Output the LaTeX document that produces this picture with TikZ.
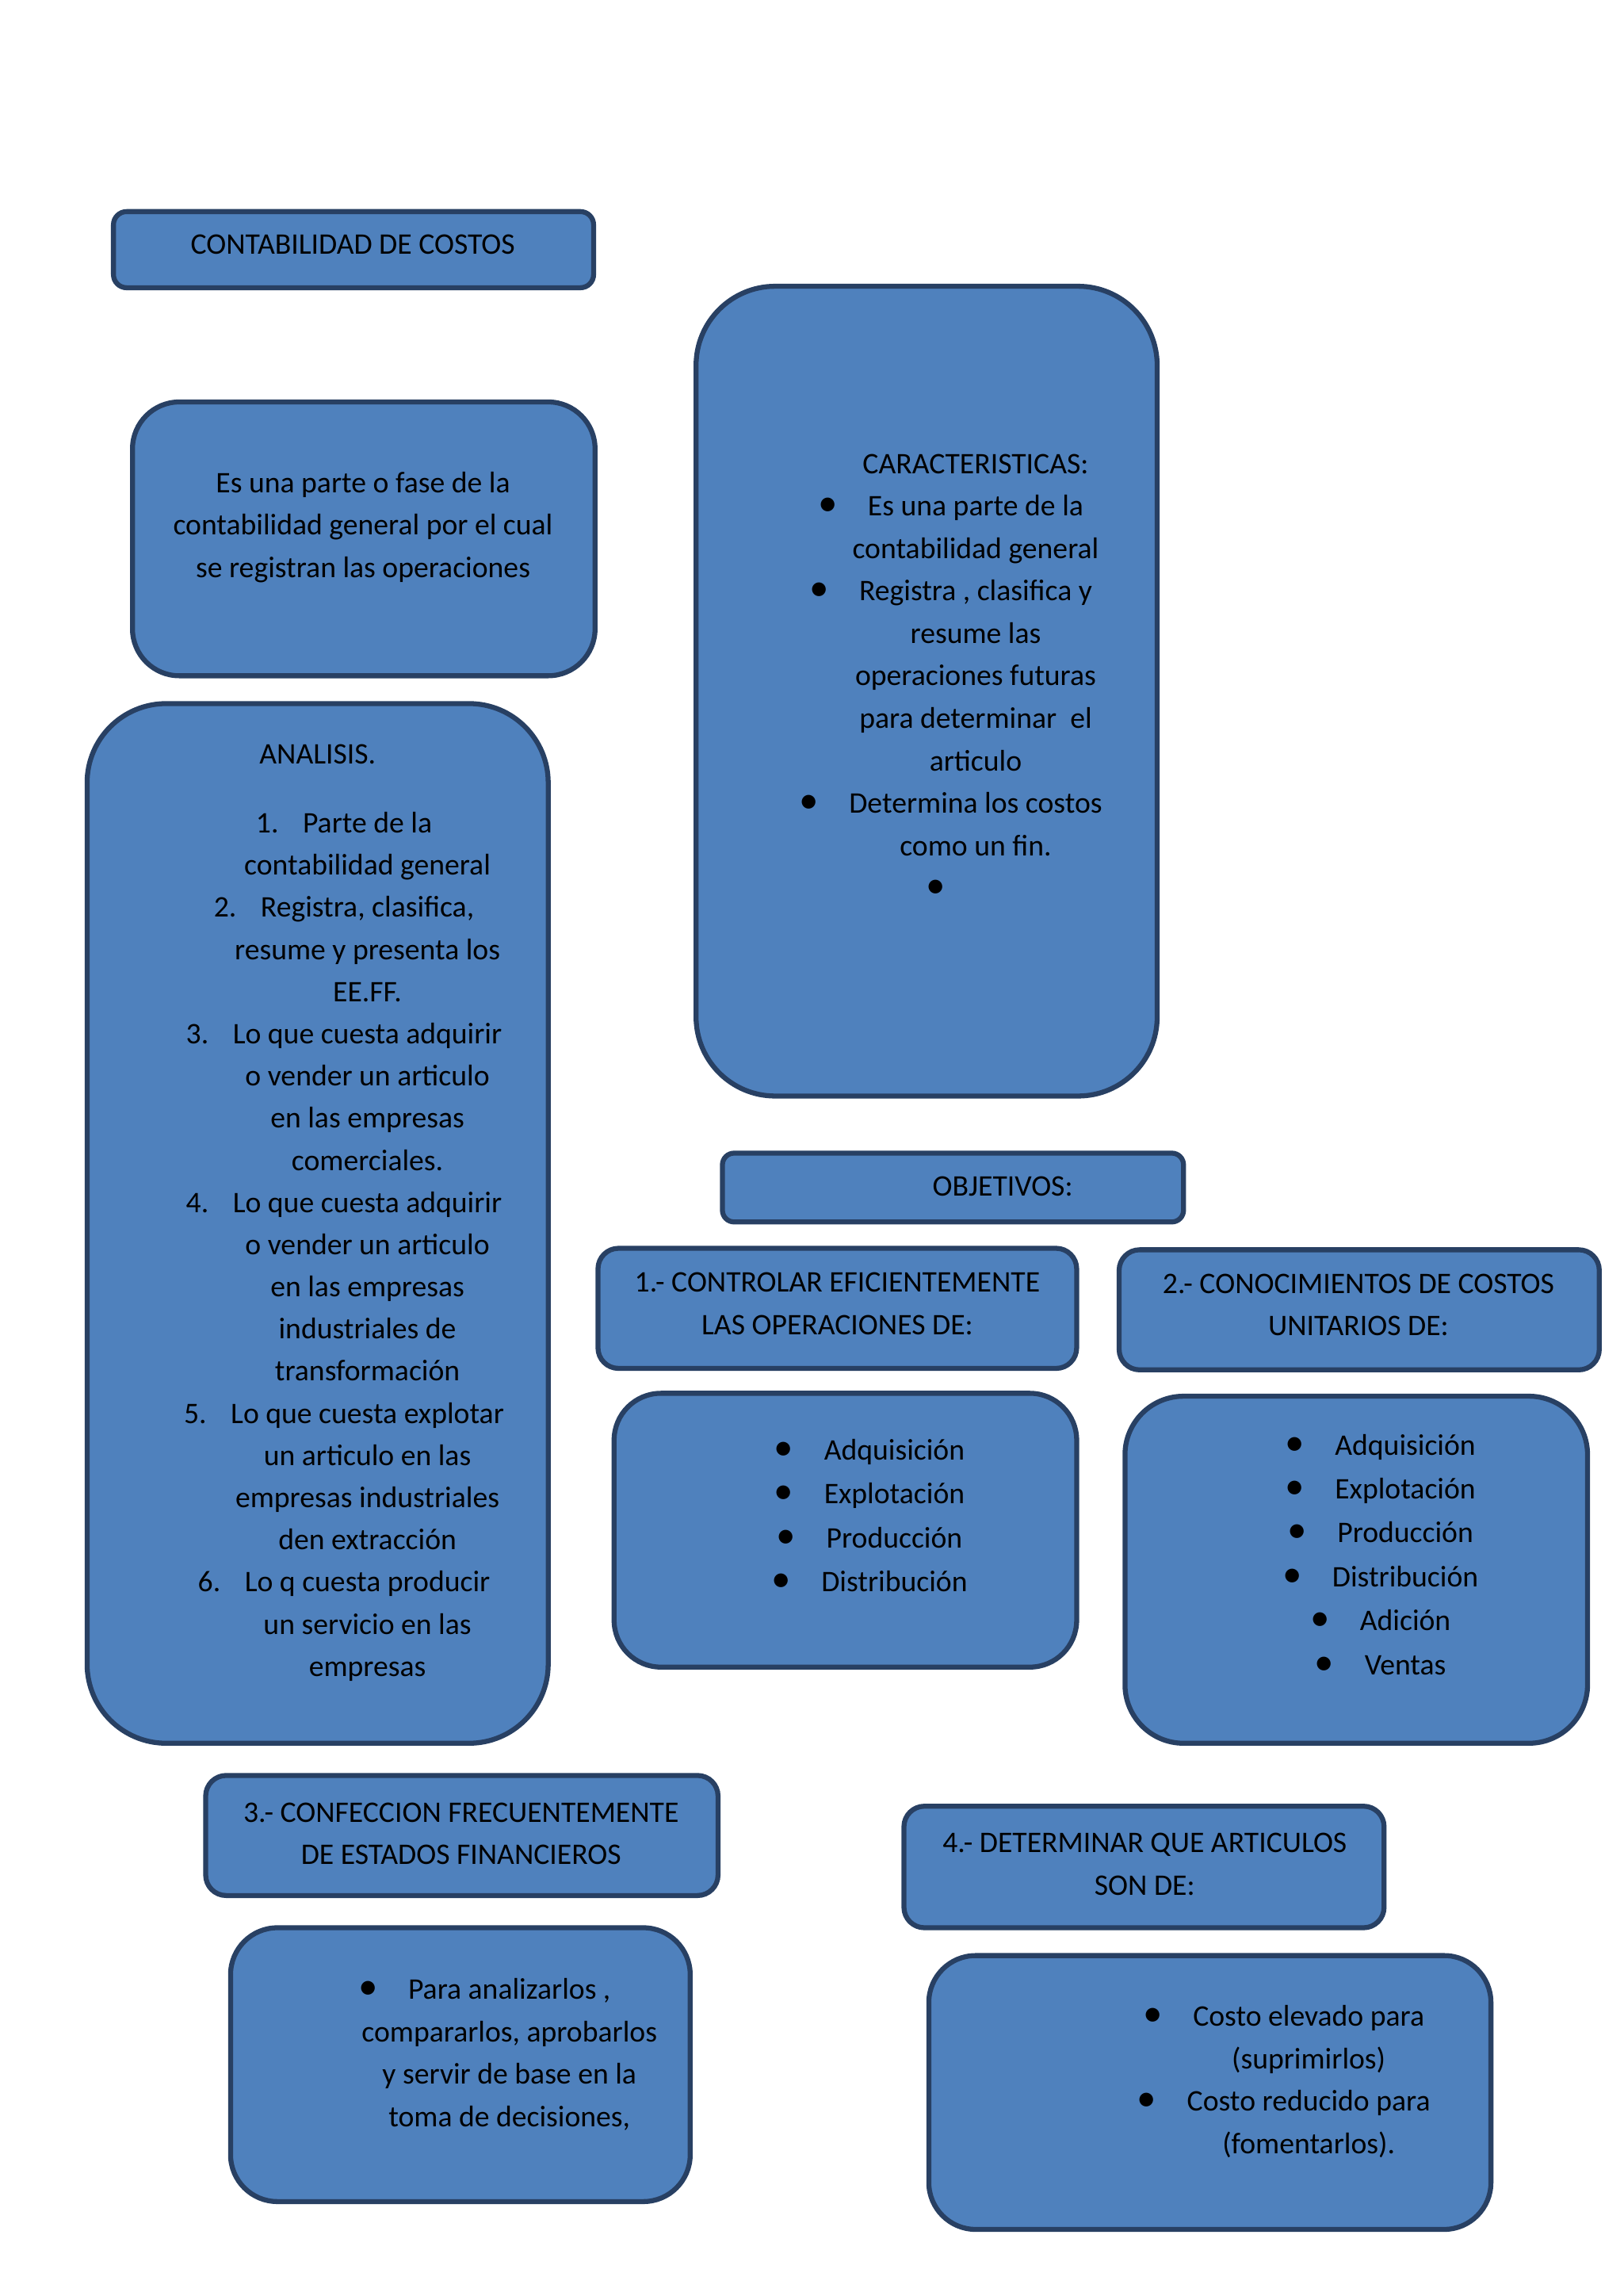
\documentclass[tikz,border=0pt]{standalone}
\usepackage{fontspec}
\setmainfont{Carlito}
\usepackage{graphicx}
\definecolor{boxblue}{RGB}{79,129,189}
\definecolor{boxedge}{RGB}{40,64,99}
\newcommand{\bl}{\llap{\makebox[17pt][l]{\scalebox{1.3}{\textbullet}}}}
\newcommand{\nr}[1]{\llap{\makebox[16pt][l]{#1.}}}
\tikzset{
  panel/.style={rectangle, draw=boxedge, fill=boxblue, line width=1.7pt, inner sep=0pt},
  txt/.style={font=\fontsize{10.2}{14.5}\selectfont, align=center, inner sep=0pt, text=black,
    execute at begin node=\strut, execute at end node=\strut},
}

\begin{document}
\begin{tikzpicture}[x=0.5pt,y=-0.5pt]
  \useasboundingbox (0,0) rectangle (1109,1568);
  % panels
  \node[panel, minimum width=164pt, minimum height=26pt, rounded corners=4.5pt] (title) at (241.5,170.5) {};
  \node[panel, minimum width=158pt, minimum height=93.5pt, rounded corners=16pt] (defin) at (248.5,368) {};
  \node[panel, minimum width=157.5pt, minimum height=355pt, rounded corners=27pt] (analisis) at (217,835.5) {};
  \node[panel, minimum width=157.5pt, minimum height=276.5pt, rounded corners=27pt] (caract) at (633,472) {};
  \node[panel, minimum width=157.5pt, minimum height=23.5pt, rounded corners=4pt] (objetivos) at (651,811) {};
  \node[panel, minimum width=163.5pt, minimum height=41pt, rounded corners=7pt] (obj1) at (572,893.5) {};
  \node[panel, minimum width=164pt, minimum height=41pt, rounded corners=7pt] (obj2) at (928.5,894.5) {};
  \node[panel, minimum width=158pt, minimum height=93.5pt, rounded corners=16pt] (obj1list) at (577.5,1045) {};
  \node[panel, minimum width=158pt, minimum height=118.5pt, rounded corners=20pt] (obj2list) at (926.5,1072) {};
  \node[panel, minimum width=175pt, minimum height=41pt, rounded corners=7pt] (obj3) at (315.5,1253.5) {};
  \node[panel, minimum width=164pt, minimum height=41.5pt, rounded corners=7pt] (obj4) at (781.5,1275) {};
  \node[panel, minimum width=157pt, minimum height=93.5pt, rounded corners=16pt] (obj3list) at (314.5,1410) {};
  \node[panel, minimum width=192pt, minimum height=93.5pt, rounded corners=16pt] (obj4list) at (826.5,1429) {};
  % texts
  \node[txt] (titleTxt) at (241,168) {CONTABILIDAD DE COSTOS};
  \node[txt] (definTxt) at (248,362.5) {Es una parte o fase de la\\contabilidad general por el cual\\se registran las operaciones};
  \node[txt] (analisisHead) at (217,516) {ANALISIS.};
  \node[txt, font=\fontsize{10.2}{14.4}\selectfont] (analisisTxt) at (251,854) {\nr{1}Parte de la\\contabilidad general\\\nr{2}Registra, clasifica,\\resume y presenta los\\EE.FF.\\
    \nr{3}Lo que cuesta adquirir\\o vender un articulo\\en las empresas\\comerciales.\\
    \nr{4}Lo que cuesta adquirir\\o vender un articulo\\en las empresas\\industriales de\\transformación\\
    \nr{5}Lo que cuesta explotar\\un articulo en las\\empresas industriales\\den extracción\\
    \nr{6}Lo q cuesta producir\\un servicio en las\\empresas};
  \node[txt] (caractTxt) at (666.5,466) {CARACTERISTICAS:\\\bl Es una parte de la\\contabilidad general\\
    \bl Registra , clasifica y\\resume las\\operaciones futuras\\para determinar \ el\\articulo\\
    \bl Determina los costos\\como un fin.\\\bl};
  \node[txt] (objetivosTxt) at (685,811) {OBJETIVOS:};
  \node[txt] (obj1Txt) at (572,894.5) {1.- CONTROLAR EFICIENTEMENTE\\LAS OPERACIONES DE:};
  \node[txt] (obj2Txt) at (928,895.5) {2.- CONOCIMIENTOS DE COSTOS\\UNITARIOS DE:};
  \node[txt, font=\fontsize{10.2}{15}\selectfont] (obj1listTxt) at (611,1039.5) {\bl Adquisición\\\bl Explotación\\\bl Producción\\\bl Distribución};
  \node[txt, font=\fontsize{10.2}{15}\selectfont] (obj2listTxt) at (960,1066) {\bl Adquisición\\\bl Explotación\\\bl Producción\\\bl Distribución\\\bl Adición\\\bl Ventas};
  \node[txt] (obj3Txt) at (315,1256.5) {3.- CONFECCION FRECUENTEMENTE\\DE ESTADOS FINANCIEROS};
  \node[txt] (obj4Txt) at (782,1277.5) {4.- DETERMINAR QUE ARTICULOS\\SON DE:};
  \node[txt] (obj3listTxt) at (348,1406) {\bl Para analizarlos ,\\compararlos, aprobarlos\\y servir de base en la\\toma de decisiones,};
  \node[txt] (obj4listTxt) at (894,1424.5) {\bl Costo elevado para\\(suprimirlos)\\\bl Costo reducido para\\(fomentarlos).};
\end{tikzpicture}
\end{document}
